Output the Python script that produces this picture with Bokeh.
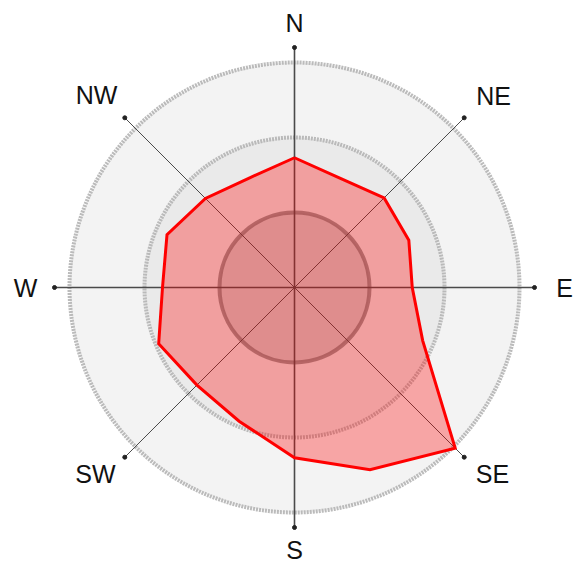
import numpy as np
from bokeh.plotting import figure
from bokeh.models import ColumnDataSource
from bokeh.core.properties import value
from bokeh.embed import file_html
from bokeh.resources import INLINE

# 16 wind directions, clockwise from North
directions = ["N", "NNE", "NE", "ENE", "E", "ESE", "SE", "SSE",
              "S", "SSW", "SW", "WSW", "W", "WNW", "NW", "NNW"]
values = [1.73, 1.58, 1.69, 1.65, 1.57, 1.85, 3.03, 2.63,
          2.27, 1.93, 1.84, 1.96, 1.76, 1.84, 1.68, 1.58]
ring_radii = [3, 2, 1]
axis_labels = ["N", "NE", "E", "SE", "S", "SW", "W", "NW"]

PX = 75.0
W, H = 577, 566
cx, cy = 294, 287

p = figure(width=W, height=H, output_backend="svg", toolbar_location=None,
           x_range=(-cx / PX, (W - cx) / PX), y_range=(-(H - cy) / PX, cy / PX),
           min_border=0, match_aspect=False)
p.axis.visible = False
p.grid.visible = False
p.outline_line_color = None
p.background_fill_color = "white"
p.border_fill_color = "white"

# rings
ring_fill = {3: "#f3f3f3", 2: "#eaeaea", 1: "#d0d0d0"}
for r in ring_radii:
    if r == 1:
        p.circle(x=[0], y=[0], radius=r, fill_color=ring_fill[r],
                 line_color="#7a7a7a", line_width=4, line_alpha=0.75)
    else:
        p.circle(x=[0], y=[0], radius=r, fill_color=ring_fill[r],
                 line_color="#b4b4b4", line_width=4, line_dash="2 1", line_alpha=0.9)

# axis lines
axis_len = 3.2
for i, lab in enumerate(axis_labels):
    th = np.deg2rad(90 - i * 45)
    x1, y1 = axis_len * np.cos(th), axis_len * np.sin(th)
    wdt = 1.6 if i % 2 == 0 else 1.0
    p.line([0, x1], [0, y1], line_color="#4a4a4a", line_width=wdt)
    p.scatter([x1], [y1], size=4, color="#222222")

# polygon
ang = np.deg2rad(90 - np.arange(len(directions)) * 22.5)
vals = np.array(values)
xs = list(vals * np.cos(ang))
ys = list(vals * np.sin(ang))
p.patch(xs, ys, fill_color="red", fill_alpha=0.32, line_color=None)
p.line(xs + [xs[0]], ys + [ys[0]], line_color="red", line_width=3, line_join="miter")

# labels (placement around the rose, in pixels from centre)
label_px = {"N": (0, 265), "NE": (199, 192), "E": (270, 0), "SE": (198, -186),
            "S": (0, -262), "SW": (-199, -186), "W": (-269, 0), "NW": (-198, 193)}
lx = [label_px[t][0] / PX for t in axis_labels]
ly = [label_px[t][1] / PX for t in axis_labels]
src = ColumnDataSource(dict(x=lx, y=ly, t=axis_labels))
p.text(x="x", y="y", text="t", source=src, text_align="center",
       text_baseline="middle", text_font=value("Liberation Sans"),
       text_font_size="25px", text_color="#111111")

open("out.html", "w").write(file_html(p, INLINE))
